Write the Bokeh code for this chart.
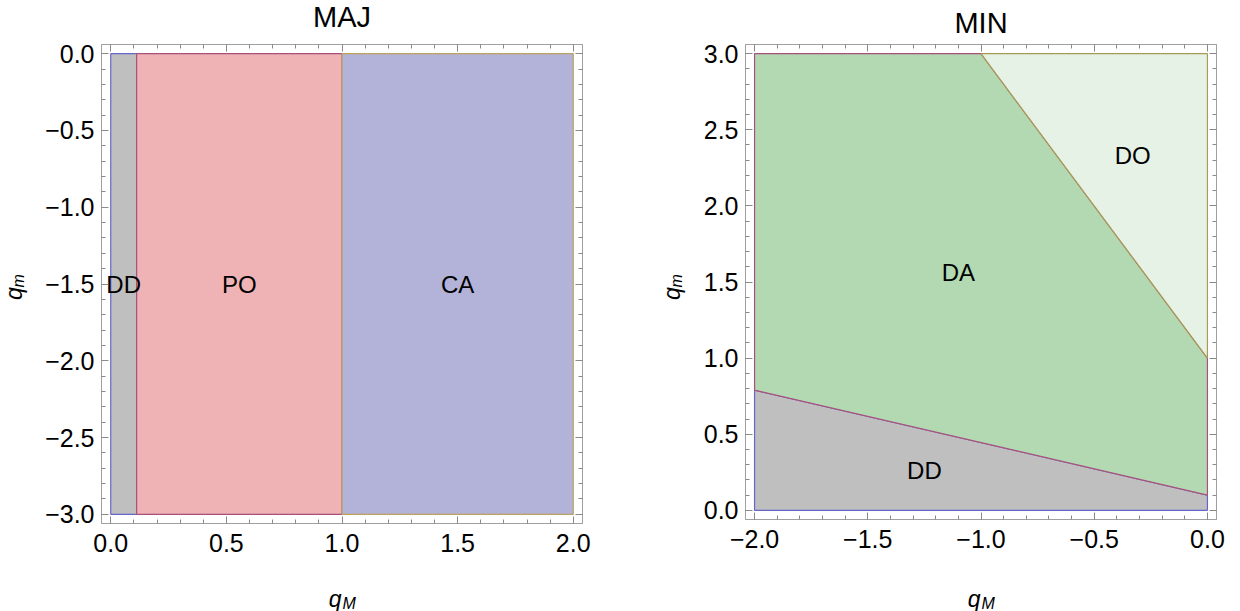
import math
from bokeh.plotting import figure
from bokeh.models import (Range1d, SingleIntervalTicker, LinearAxis, Label,
                          ColumnDataSource, CustomJSTickFormatter)
from bokeh.layouts import row
from bokeh.embed import file_html
from bokeh.resources import INLINE
from bokeh.core.properties import value

# ---------------- data ----------------
# MAJ panel: vertical bands along q_M, spanning q_m in [-3, 0]
maj_edges = [0.0, 0.112, 1.0, 2.0]
maj_qm = [-3.0, 0.0]
maj_names = ["DD", "PO", "CA"]
maj_label_qm = [-1.5, -1.5, -1.5]

# MIN panel: q_M in [-2, 0], q_m in [0, 3]
min_qM = [-2.0, 0.0]
min_qm = [0.0, 3.0]
dd_da_qm = [0.79, 0.10]      # DD/DA boundary q_m at q_M = -2 and q_M = 0
da_do_qM = [-1.0, 0.0]       # DA/DO boundary end points (q_M)
da_do_qm = [3.0, 1.0]        # DA/DO boundary end points (q_m)
min_names = ["DD", "DA", "DO"]
min_label_qM = [-1.25, -1.10, -0.33]
min_label_qm = [0.26, 1.56, 2.33]

maj_fill = ["#bfbfbf", "#efb3b5", "#b3b3d9"]
maj_line = ["#6565c8", "#a8507c", "#bba45e"]
min_fill = ["#bfbfbf", "#b3d9b3", "#e6f2e6"]
min_line = ["#6565c8", "#a8507c", "#a89a55"]

FONT = "Liberation Sans"
TICK_COLOR = "#8a8a8a"
FRAME_COLOR = "#a0a0a0"

fmt_code = """
if (Math.abs(tick) < 1e-9) { return '0.0'; }
var s = Math.abs(tick).toFixed(1);
return (tick < 0 ? '\u2212' : '') + s;
"""


def style_axis(ax, show_labels=True):
    ax.ticker = SingleIntervalTicker(interval=0.5, num_minor_ticks=5)
    ax.major_tick_in = 7
    ax.major_tick_out = 0
    ax.minor_tick_in = 4
    ax.minor_tick_out = 0
    ax.major_tick_line_color = TICK_COLOR
    ax.minor_tick_line_color = TICK_COLOR
    ax.axis_line_color = FRAME_COLOR
    ax.axis_label = None
    if show_labels:
        ax.formatter = CustomJSTickFormatter(code=fmt_code)
        ax.major_label_text_font = FONT
        ax.major_label_text_font_size = "25px"
        ax.major_label_text_color = "black"
    else:
        ax.formatter = CustomJSTickFormatter(code="return '';")
        ax.major_label_text_color = None
        ax.major_label_text_font_size = "1px"
        ax.major_label_standoff = 0


def make_fig(xr, yr, fw, fh, left, right, top, bottom):
    p = figure(x_range=Range1d(*xr), y_range=Range1d(*yr),
               frame_width=fw, frame_height=fh,
               min_border_left=left, min_border_right=right,
               min_border_top=top, min_border_bottom=bottom,
               output_backend="svg", toolbar_location=None, tools="",
               background_fill_color="white", border_fill_color="white")
    p.title.visible = False
    p.grid.visible = False
    p.outline_line_color = FRAME_COLOR
    p.outline_line_width = 1
    style_axis(p.xaxis[0])
    style_axis(p.yaxis[0])
    p.xaxis[0].major_label_standoff = 10
    p.yaxis[0].major_label_standoff = 7
    top_ax = LinearAxis()
    style_axis(top_ax, show_labels=False)
    p.add_layout(top_ax, "above")
    right_ax = LinearAxis()
    style_axis(right_ax, show_labels=False)
    p.add_layout(right_ax, "right")
    return p


def lab(p, place, x, y, text, size, dx, dy, align="left", angle=0.0, style="italic"):
    p.add_layout(Label(x=x, y=y, x_offset=dx, y_offset=dy, text=text, angle=angle,
                       text_font=FONT, text_font_size=size, text_font_style=style,
                       text_align=align, text_baseline="middle",
                       text_color="black"), place)


def decorate(p, xr, yr, title, title_dy, places, xlab_dy, ylab_dx, ylab_dy):
    xc = (xr[0] + xr[1]) / 2
    yc = (yr[0] + yr[1]) / 2
    # title (offsets are to the text's middle)
    lab(p, places[0], xc, yr[1], title, "29px", 0, title_dy, align="center", style="normal")
    # x axis label: q_M
    lab(p, places[1], xc, yr[0], "q", "23px", -0.5, xlab_dy, align="right")
    lab(p, places[2], xc, yr[0], "M", "16px", 0.5, xlab_dy - 4.5, align="left")
    # y axis label: q_m (rotated)
    lab(p, places[3], xr[0], yc, "q", "23px", ylab_dx, ylab_dy, angle=math.pi / 2)
    lab(p, places[4], xr[0], yc, "m", "16px", ylab_dx + 5, ylab_dy + 12.5, angle=math.pi / 2)


# ---------------- MAJ ----------------
xr1 = (maj_edges[0] - 0.04, maj_edges[-1] + 0.04)
yr1 = (maj_qm[0] - 0.06, maj_qm[1] + 0.06)
p1 = make_fig(xr1, yr1, 481, 479, 101, 38, 44, 88)
src1 = ColumnDataSource(dict(
    left=maj_edges[:-1], right=maj_edges[1:],
    bottom=[maj_qm[0]] * 3, top=[maj_qm[1]] * 3,
    fill=maj_fill, line=maj_line))
p1.quad(left="left", right="right", bottom="bottom", top="top", source=src1,
        fill_color="fill", line_color="line", line_width=1.2)
lab1 = ColumnDataSource(dict(
    x=[(a + b) / 2 for a, b in zip(maj_edges[:-1], maj_edges[1:])],
    y=maj_label_qm, t=maj_names))
p1.text(x="x", y="y", text="t", source=lab1, text_font=value(FONT),
        text_font_size="24px", text_align="center", text_baseline="middle",
        text_color="black")
decorate(p1, xr1, yr1, "MAJ", 28, ["above", "left", "left", "right", "below"],
         -75, -88, -16)

# ---------------- MIN ----------------
xr2 = (min_qM[0] - 0.04, min_qM[1] + 0.04)
yr2 = (min_qm[0] - 0.06, min_qm[1] + 0.06)
p2 = make_fig(xr2, yr2, 471, 475, 125, 24, 44, 92)
x0, x1 = min_qM
y0, y1 = min_qm
dd_x = [x0, x1, x1, x0]
dd_y = [y0, y0, dd_da_qm[1], dd_da_qm[0]]
da_x = [x0, x1, x1, da_do_qM[0], x0]
da_y = [dd_da_qm[0], dd_da_qm[1], da_do_qm[1], da_do_qm[0], y1]
do_x = [da_do_qM[0], x1, x1]
do_y = [y1, y1, da_do_qm[1]]
src2 = ColumnDataSource(dict(xs=[dd_x, da_x, do_x], ys=[dd_y, da_y, do_y],
                             fill=min_fill, line=min_line))
p2.patches(xs="xs", ys="ys", source=src2, fill_color="fill", line_color="line",
           line_width=1.2)
lab2 = ColumnDataSource(dict(x=min_label_qM, y=min_label_qm, t=min_names))
p2.text(x="x", y="y", text="t", source=lab2, text_font=value(FONT),
        text_font_size="24px", text_align="center", text_baseline="middle",
        text_color="black")
decorate(p2, xr2, yr2, "MIN", 22, ["above", "left", "left", "below", "right"],
         -79, -74, -18)

layout = row(p1, p2)
open("out.html", "w").write(file_html(layout, INLINE))
